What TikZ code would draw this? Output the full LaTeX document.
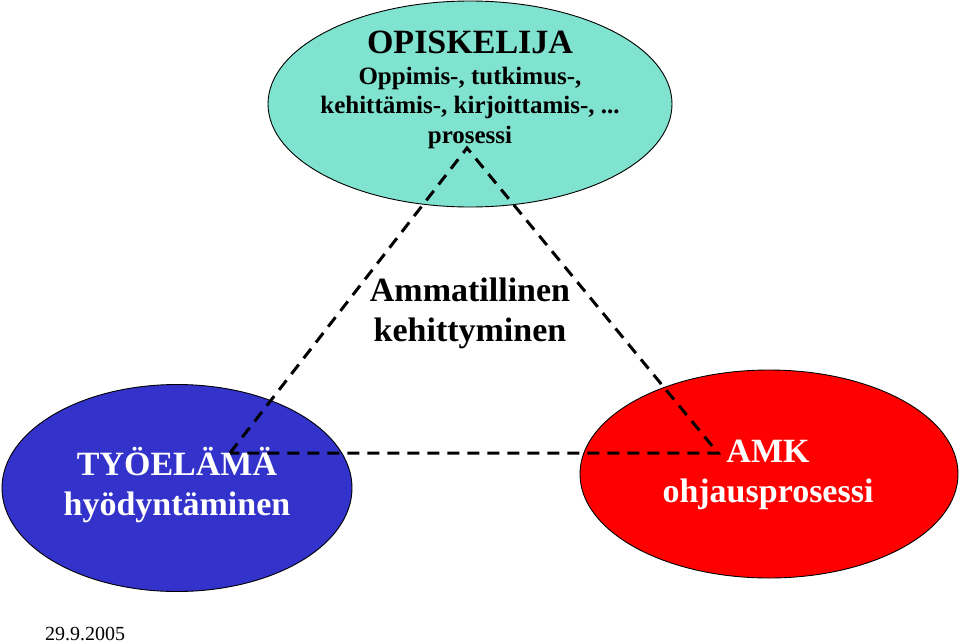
\documentclass[tikz,border=0pt]{standalone}
\usepackage{fontspec}
\setmainfont{Liberation Serif}
\usetikzlibrary{shapes.geometric}
\definecolor{tealfill}{HTML}{80E3CF}
\definecolor{bluefill}{HTML}{3333CC}
\definecolor{redfill}{HTML}{FF0000}
\tikzset{
  blob/.style={ellipse, draw=black, line width=0.9pt, inner sep=0pt},
  conn/.style={dashed, dash pattern=on 12pt off 8pt, line width=3pt, black},
  bigtxt/.style={font=\fontsize{34}{39.5}\selectfont\bfseries, align=center, inner sep=0pt},
  midtxt/.style={font=\fontsize{25}{29.5}\selectfont\bfseries, align=center, inner sep=0pt},
}
\begin{document}
\begin{tikzpicture}[x=1pt,y=-1pt]
\useasboundingbox (0,0) rectangle (960,643);
\node[blob, fill=tealfill, minimum width=404pt, minimum height=206pt] (top) at (470,104) {};
\node[blob, fill=bluefill, minimum width=350pt, minimum height=207pt] (left) at (177,488) {};
\node[blob, fill=redfill, minimum width=378pt, minimum height=208pt] (right) at (769,474) {};
\node[bigtxt, anchor=base] (t1) at (470,53) {OPISKELIJA};
\node[midtxt, anchor=base] (t2) at (470,143) {Oppimis-, tutkimus-,\\kehittämis-, kirjoittamis-, ...\\prosessi};
\node[bigtxt, anchor=base] (mid) at (470,341) {Ammatillinen\\kehittyminen};
\node[bigtxt, anchor=base, text=white] (lt) at (177,515) {TYÖELÄMÄ\\hyödyntäminen};
\node[bigtxt, anchor=base, text=white] (rt) at (768,502) {AMK\\ohjausprosessi};
\node[font=\fontsize{20}{24}\selectfont, anchor=base west, inner sep=0pt] (date) at (45,640) {29.9.2005};
\coordinate (A) at (467,148);
\coordinate (B) at (230,453);
\coordinate (C) at (718,453);
\draw[conn] (B) -- (A) -- (C) -- cycle;
\end{tikzpicture}
\end{document}
